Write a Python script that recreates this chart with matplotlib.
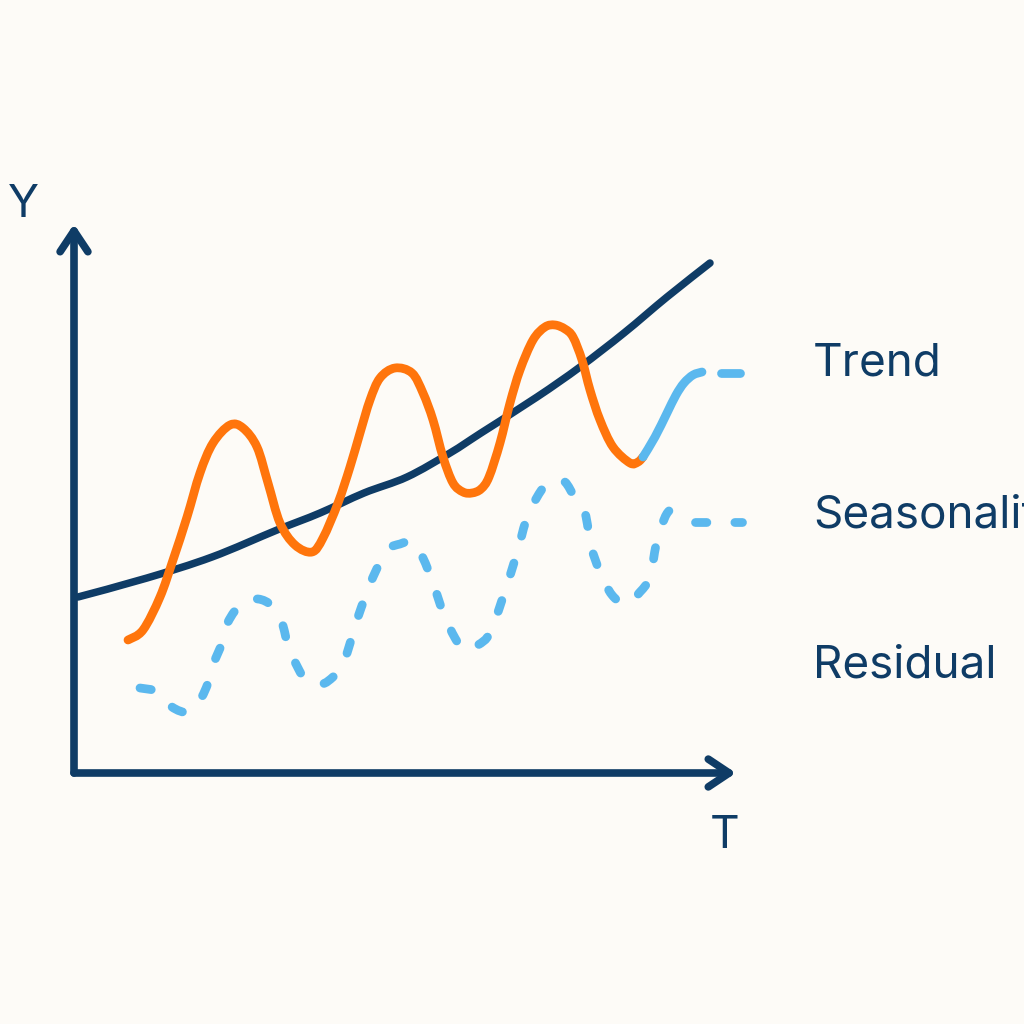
import matplotlib.pyplot as plt
from matplotlib.patches import FancyArrowPatch, ArrowStyle, PathPatch
from matplotlib.path import Path

# colours
bg = '#fdfbf7'
navy = '#0f3c66'
orange = '#ff750c'
sky = '#5bb8ee'

# trend line
trend_x = [78, 147, 212, 277, 320, 364, 407, 450, 481, 537, 580, 624, 667, 710]
trend_y = [427, 446, 467, 494, 511, 531, 547, 571, 591, 627, 657, 691, 727, 761]

# seasonal (orange) line
season_x = [128, 143, 160, 173, 187, 200, 213, 230, 243, 257, 268, 280, 295, 312, 323,
            338, 350, 360, 370, 380, 395, 412, 423, 433, 443, 453, 463, 472, 481, 489,
            500, 510, 520, 533, 545, 555, 565, 573, 582, 590, 600, 613, 630, 638, 643]
season_y = [384, 394, 427, 464, 507, 551, 581, 599, 596, 577, 541, 501, 479, 472, 486,
            521, 557, 591, 624, 646, 656, 651, 631, 604, 567, 541, 532, 531, 535, 547,
            581, 621, 654, 684, 697, 699, 695, 687, 664, 634, 604, 577, 561, 562, 567]

# light blue continuation after the last seasonal dip
tail_x = [643, 655, 667, 676, 684, 693, 702]
tail_y = [567, 587, 611, 629, 641, 649, 652]
tail_dash_x = [721, 740]
tail_dash_y = [651, 651]

# residual (dashed)
resid_x = [140, 158, 172, 188, 200, 208, 213, 222, 228, 242, 258, 272, 282, 288, 298,
           307, 322, 333, 342, 348, 358, 373, 388, 400, 413, 423, 433, 443, 455, 465,
           478, 490, 503, 517, 528, 545, 555, 565, 575, 585, 591, 600, 612, 626, 640,
           650, 656, 662, 668, 678, 688]
resid_y = [336, 332, 317, 312, 324, 341, 359, 381, 402, 421, 425, 418, 401, 379, 356,
           343, 340, 347, 357, 374, 407, 447, 474, 480, 482, 466, 441, 412, 386, 374,
           379, 391, 427, 471, 509, 539, 543, 542, 526, 511, 478, 452, 429, 420, 432,
           447, 479, 499, 512, 519, 521]
resid_tail_x = [695, 742]
resid_tail_y = [502, 502]

labels = ['Trend', 'Seasonality', 'Residual']
label_y = [649, 496, 347]


def smooth_path(xs, ys):
    # cubic bezier through the read points (catmull-rom tangents)
    pts = list(zip(xs, ys))
    verts = [pts[0]]
    codes = [Path.MOVETO]
    n = len(pts)
    for i in range(n - 1):
        p0 = pts[max(i - 1, 0)]
        p1 = pts[i]
        p2 = pts[i + 1]
        p3 = pts[min(i + 2, n - 1)]
        c1 = (p1[0] + (p2[0] - p0[0]) / 6, p1[1] + (p2[1] - p0[1]) / 6)
        c2 = (p2[0] - (p3[0] - p1[0]) / 6, p2[1] - (p3[1] - p1[1]) / 6)
        verts += [c1, c2, p2]
        codes += [Path.CURVE4] * 3
    return Path(verts, codes)


def add_curve(ax, xs, ys, **kw):
    patch = PathPatch(smooth_path(xs, ys), fill=False, capstyle='round',
                      joinstyle='round', **kw)
    ax.add_patch(patch)


fig = plt.figure(figsize=(10.24, 10.24), dpi=100)
fig.patch.set_facecolor(bg)
ax = fig.add_axes([0, 0, 1, 1])
ax.set_facecolor(bg)
ax.set_xlim(0, 1024)
ax.set_ylim(0, 1024)
ax.axis('off')

# axes with open arrow heads
head = ArrowStyle('->', head_length=15, head_width=10)
for start, end in [((74, 251), (74, 800)), ((74, 251), (736, 251))]:
    arr = FancyArrowPatch(start, end, arrowstyle=head, mutation_scale=1,
                          lw=5.5, color=navy, capstyle='round', joinstyle='round',
                          shrinkA=0, shrinkB=0)
    ax.add_patch(arr)

add_curve(ax, trend_x, trend_y, edgecolor=navy, lw=5.4)
add_curve(ax, season_x, season_y, edgecolor=orange, lw=6.3)
add_curve(ax, tail_x, tail_y, edgecolor=sky, lw=6.3)
ax.plot(tail_dash_x, tail_dash_y, color=sky, lw=6.3, solid_capstyle='round')

add_curve(ax, resid_x, resid_y, edgecolor=sky, lw=6.3, linestyle=(0, (1.3, 3.2)))
ax.plot(resid_tail_x, resid_tail_y, color=sky, lw=6.3, dashes=(1.3, 3.2),
        dash_capstyle='round')

# axis letters
ax.text(23, 807, 'Y', color=navy, fontsize=33, family='Inter', ha='center', va='baseline')
ax.text(725, 176, 'T', color=navy, fontsize=33, family='Inter', ha='center', va='baseline')

for lab, y in zip(labels, label_y):
    ax.text(813, y, lab, color=navy, fontsize=33, family='Inter', ha='left', va='baseline')

fig.savefig('out.png', dpi=100, facecolor=bg)
